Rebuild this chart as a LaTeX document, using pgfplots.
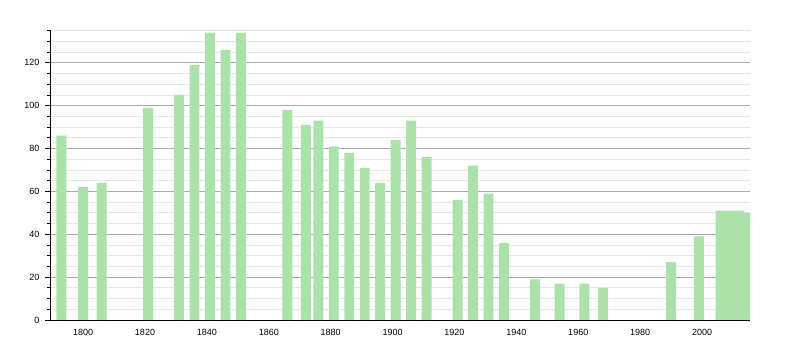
\documentclass[border=0pt]{standalone}
\usepackage{fontspec}
\setmainfont{Liberation Sans}
\usepackage{pgfplots}
\pgfplotsset{compat=1.18}
\definecolor{bargreen}{RGB}{170,226,170}
\definecolor{majgrid}{RGB}{170,170,170}
\definecolor{mingrid}{RGB}{230,230,230}
\begin{document}
\begin{tikzpicture}[x=1pt,y=1pt]
\useasboundingbox (0,0) rectangle (800,350);
\begin{axis}[
  at={(50pt,30pt)}, anchor=south west,
  scale only axis, width=700pt, height=290pt,
  xmin=1789.3, xmax=2015.5,
  ymin=0, ymax=135.3,
  axis x line*=bottom, axis y line*=left,
  axis line style={black, line width=0.9pt, -},
  xtick={1800,1820,...,2000},
  x tick style={draw=none},
  ytick={0,20,...,120},
  minor ytick={5,10,...,135},
  ymajorgrids, yminorgrids,
  major grid style={majgrid, line width=0.7pt},
  minor grid style={mingrid, line width=0.7pt},
  y tick style={black, line width=0.7pt},
  major tick length=5pt, minor tick length=3pt,
  tick align=outside,
  ticklabel style={font=\fontsize{9}{10}\selectfont},
  /pgf/number format/assume math mode=true,
  /pgf/number format/1000 sep={},
  xticklabel style={yshift=-1pt},
  yticklabel style={xshift=-2pt},
  clip=true,
]
\addplot[ybar, bar width=3.2, bar shift=0pt, fill=bargreen, draw=none] coordinates {
(1793,86) (1800,62) (1806,64) (1821,99) (1831,105) (1836,119) (1841,134) (1846,126) (1851,134)
(1866,98) (1872,91) (1876,93) (1881,81) (1886,78) (1891,71) (1896,64) (1901,84) (1906,93) (1911,76)
(1921,56) (1926,72) (1931,59) (1936,36) (1946,19) (1954,17) (1962,17) (1968,15)
(1990,27) (1999,39)
(2006,51) (2007,51) (2008,51) (2009,49) (2010,51) (2011,51) (2012,51) (2013,50) (2014,50) (2015,50)
};
\end{axis}
\end{tikzpicture}
\end{document}
